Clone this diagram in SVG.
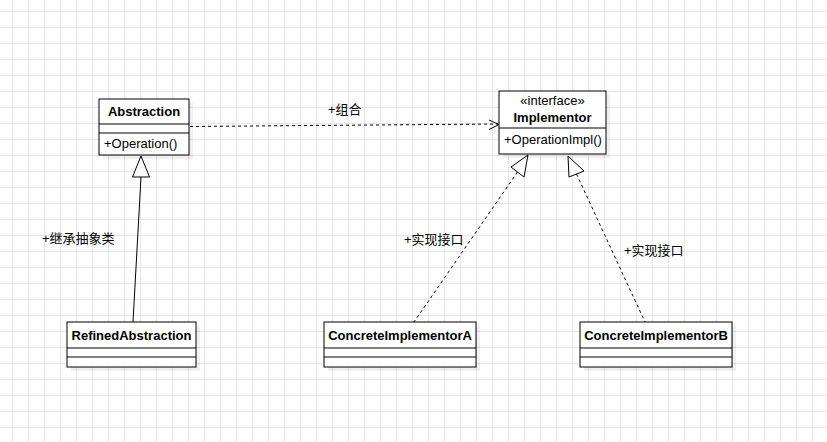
<svg xmlns="http://www.w3.org/2000/svg" width="827" height="442" viewBox="0 0 827 442">
<defs>
<pattern id="grid" patternUnits="userSpaceOnUse" x="12" y="11" width="16" height="16">
<path d="M0.5 0 V16 M0 0.5 H16" stroke="#e6e6e6" stroke-width="1" fill="none"/>
</pattern>
<style>
.box{fill:#ffffff;stroke:#000;stroke-width:1}
.shadow{fill:#000;fill-opacity:0.06;stroke:none}
.sep{stroke:#000;stroke-width:1}
.t{font-family:"Liberation Sans",Arial,"Noto Sans CJK SC",sans-serif;font-size:13px;fill:#000}
.b{font-weight:bold}
.c{text-anchor:middle}
.line{fill:none;stroke:#000;stroke-width:1}
.dash{stroke-dasharray:3 3}
.tri{fill:#fff;stroke:#000;stroke-width:1}
</style>
</defs>
<rect width="827" height="442" fill="#ffffff"/>
<rect width="827" height="442" fill="url(#grid)"/>

<g id="connectors">
<line class="line dash" x1="190" y1="126.5" x2="498" y2="124"/>
<polyline class="line" points="489,120 499,124.5 489,129.5"/>
<line class="line" x1="141" y1="177" x2="133" y2="322"/>
<polygon class="tri" points="141,156 132.5,177 149.5,177"/>
<line class="line dash" x1="517.5" y1="172" x2="414" y2="322"/>
<polygon class="tri" points="528,155 511,167 524,177"/>
<line class="line dash" x1="576.5" y1="174" x2="645" y2="322"/>
<polygon class="tri" points="568,156 569,177 584,171"/>
<text class="t" x="328" y="114">+组合</text>
<text class="t" x="42" y="243">+继承抽象类</text>
<text class="t" x="404" y="244">+实现接口</text>
<text class="t" x="624" y="255">+实现接口</text>
</g>

<g id="abstraction">
<rect class="shadow" x="103" y="103" width="90" height="56"/>
<rect class="box" x="99" y="99" width="90" height="56"/>
<line class="sep" x1="99" y1="124" x2="189" y2="124"/>
<line class="sep" x1="99" y1="133" x2="189" y2="133"/>
<text class="t b c" x="144" y="116">Abstraction</text>
<text class="t" x="104" y="148">+Operation()</text>
</g>

<g id="implementor">
<rect class="shadow" x="503" y="95" width="107" height="63"/>
<rect class="box" x="499" y="91" width="107" height="63"/>
<line class="sep" x1="499" y1="128" x2="606" y2="128"/>
<text class="t c" x="552.5" y="105">«interface»</text>
<text class="t b c" x="552.5" y="122">Implementor</text>
<text class="t" x="504" y="144">+OperationImpl()</text>
</g>

<g id="refinedAbstraction">
<rect class="shadow" x="71" y="326" width="129" height="45"/>
<rect class="box" x="67" y="322" width="129" height="45"/>
<line class="sep" x1="67" y1="348" x2="196" y2="348"/>
<line class="sep" x1="67" y1="357" x2="196" y2="357"/>
<text class="t b c" x="131.5" y="340">RefinedAbstraction</text>
</g>

<g id="concreteImplementorA">
<rect class="shadow" x="328" y="326" width="152" height="45"/>
<rect class="box" x="324" y="322" width="152" height="45"/>
<line class="sep" x1="324" y1="348" x2="476" y2="348"/>
<line class="sep" x1="324" y1="357" x2="476" y2="357"/>
<text class="t b c" x="400" y="340">ConcreteImplementorA</text>
</g>

<g id="concreteImplementorB">
<rect class="shadow" x="584" y="326" width="152" height="45"/>
<rect class="box" x="580" y="322" width="152" height="45"/>
<line class="sep" x1="580" y1="348" x2="732" y2="348"/>
<line class="sep" x1="580" y1="357" x2="732" y2="357"/>
<text class="t b c" x="656" y="340">ConcreteImplementorB</text>
</g>
</svg>
